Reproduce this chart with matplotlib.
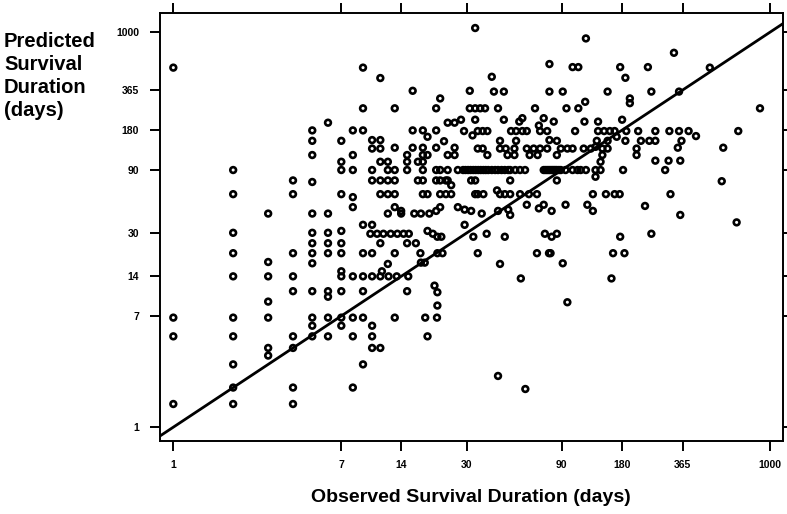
"""Observed vs predicted survival duration, log-log scatter with identity line."""

import matplotlib

matplotlib.use("Agg")

import matplotlib.pyplot as plt
from matplotlib.ticker import FixedLocator, NullLocator

plt.rcParams["font.family"] = ["Liberation Sans", "DejaVu Sans"]

# Tick positions (days) shared by both axes.
tick_days = [1, 7, 14, 30, 90, 180, 365, 1000]
tick_labels = ["1", "7", "14", "30", "90", "180", "365", "1000"]

# Identity line endpoints (predicted == observed).
identity_days = [0.5, 2000]

# Patients: observed survival (days) and predicted survival (days).
observed = [
    33, 119, 330, 78, 1, 9, 102, 109, 177, 244, 500,
    11, 40, 188,
    16, 31, 41, 46, 78, 91, 153, 254, 350,
    22, 118, 198, 198,
    9, 13, 21, 31, 33, 35, 37, 43, 66, 95, 109, 894,
    6, 24, 26, 28, 33, 46, 55, 57, 73, 82, 117, 137, 181,
    69, 5, 8, 9, 16, 18, 21, 29, 34, 36, 38,
    50, 53, 57, 60, 70, 76, 105, 137, 147, 157, 166,
    190, 218, 266, 313, 350, 391, 695,
    19, 32, 170, 426,
    5, 7, 10, 11, 23, 44, 53, 78, 85, 135, 153, 188, 225, 248, 266, 360,
    10, 11, 13, 16, 18, 21, 26, 34, 36, 44, 47,
    52, 60, 65, 70, 76, 89, 96, 102, 116, 126, 133, 144, 153, 214, 345, 584,
    5, 8, 15, 18, 19, 24, 26, 38, 48, 52, 62, 68, 85, 144, 214,
    7, 11, 12, 15, 17, 18, 141, 266, 310, 355,
    2, 7, 8, 10, 12, 13, 15, 18, 21, 22,
    24, 27, 28.7, 29.5, 30.4, 31.3, 32.3, 33.2, 34.2, 35.2,
    36.3, 37.3, 38.4, 40, 41.6, 43, 44.8, 46.5, 48.4, 49.5,
    52.5, 55.5, 58.8, 73, 74.5, 76, 77.5, 79, 80.5, 82,
    83.5, 85, 87, 89, 94, 102, 108, 112, 119, 133,
    141, 183, 298,
    133, 25, 5, 42.5,
    4, 10, 11, 12, 13, 17, 18, 21,
    22, 23.5, 24, 31.5, 33, 49.5, 85, 574,
    2, 4, 7, 8, 11, 12, 13, 18, 19, 22, 23.5, 25, 33,
    34, 36.3, 44, 46.5, 49.5, 55.5, 61.5, 67.5, 129, 150, 166, 176, 317,
    8, 13, 22, 27, 14, 21, 31.5, 43, 80, 129,
    3, 5, 6, 12, 14, 16.3, 17.6, 19.4, 35.6, 49.5, 355,
    29.2, 48.4, 60, 69, 73, 94, 121, 236,
    682, 7, 9, 10, 29.2, 19,
    2, 5, 6, 9.8, 10.6, 11.4, 12.4, 13.4, 14.4, 15.3,
    20.2, 21.3, 22.3, 32.3, 37.7, 46.5, 74, 80, 85, 177, 254,
    5, 6, 7, 11, 15, 16.6,
    2, 4, 5, 6, 7, 9, 10, 13, 17.5,
    21.3, 22.6, 34, 67.5, 77.6, 79, 163, 186,
    3, 5, 12, 17.6, 18.4, 44, 91, 7, 11.2,
    2, 3, 4, 7, 8, 9, 10, 11, 12.1, 13.3, 15.2, 56, 160,
    4, 5, 6, 7, 9, 15, 6, 20.6, 21.3, 21.3, 3, 96,
    1, 2, 3, 5, 6, 7, 8, 9, 13, 18.5, 21.2,
    5, 7, 10,
    1, 2, 4, 5, 6, 8, 10, 19,
    3, 4, 10, 11, 3, 2, 9, 43,
    2, 4, 8, 59, 1, 2, 4,
]
predicted = [
    1080, 900, 700, 575, 540, 540, 545, 545, 545, 545, 540,
    450, 460, 452,
    360, 360, 355, 355, 355, 355, 355, 355, 355,
    315, 297, 315, 290,
    265, 265, 265, 265, 265, 265, 265, 265, 265, 265, 265, 265,
    206, 206, 206, 217, 217, 217, 210, 223, 223, 210, 210, 210, 217,
    196, 180, 180, 180, 180, 180, 180, 178, 178, 178, 178,
    178, 178, 178, 178, 178, 178, 178, 178, 178, 178, 178,
    178, 178, 178, 178, 178, 178, 178,
    161, 165, 161, 163,
    150, 150, 152, 152, 149, 150, 150, 152, 150, 150, 150, 150, 150, 150, 150, 150,
    131, 131, 133, 133, 133, 133, 133, 131, 131, 131, 131,
    131, 131, 131, 131, 131, 131, 131, 131, 131, 131, 135, 131, 131, 131, 133, 133,
    117, 117, 117, 117, 117, 117, 117, 117, 117, 117, 117, 117, 117, 117, 117,
    104, 104, 104, 104, 104, 104, 104, 106, 106, 106,
    90, 90, 90, 90, 90, 90, 90, 90, 90, 90,
    90, 90, 90, 90, 90, 90, 90, 90, 90, 90,
    90, 90, 90, 90, 90, 90, 90, 90, 90, 90,
    90, 90, 90, 90, 90, 90, 90, 90, 90, 90,
    90, 90, 90, 90, 90, 90, 90, 90, 90, 90,
    90, 90, 90,
    80, 69, 73, 63,
    75, 75, 75, 75, 75, 75, 75, 75,
    75, 75, 75, 75, 75, 75, 75, 74,
    59, 59, 59, 56, 59, 59, 59, 59, 59, 59, 59, 59, 59,
    59, 59, 59, 59, 59, 59, 59, 59, 59, 59, 59, 59, 59,
    47, 47, 47, 47, 44, 44, 44, 44, 44, 44,
    42, 42, 42, 42, 42, 42, 42, 42, 42, 41, 41,
    45, 45, 49, 46, 49, 49, 49, 48,
    36, 31, 34.5, 34.5, 34.5, 31,
    30, 30, 30, 29.5, 29.5, 29.5, 29.5, 29.5, 29.5, 29.5,
    29.5, 28, 28, 28, 29.5, 28, 29.5, 28, 29.5, 28, 29.5,
    25, 25, 25, 25, 25, 25,
    21, 21, 21, 21, 21, 21, 21, 21, 21,
    21, 21, 21, 21, 21, 21, 21, 21,
    18, 17.6, 17.4, 17.8, 17.8, 17.4, 17.6, 15.3, 15.3,
    14, 14, 14, 14, 14, 14, 14, 14, 14, 14, 14, 13.5, 13.5,
    10.8, 10.8, 10.8, 10.8, 10.8, 10.8, 9.8, 11.9, 10.6, 8.4, 9, 8.9,
    6.8, 6.8, 6.8, 6.8, 6.8, 6.8, 6.8, 6.8, 6.8, 6.8, 6.8,
    5.9, 5.9, 5.9,
    4.9, 4.9, 4.9, 4.9, 4.9, 4.9, 4.9, 4.9,
    4, 4, 4, 4, 3.5, 3, 3, 2.45,
    2, 2, 2, 1.95, 1.5, 1.5, 1.5,
]
assert len(observed) == len(predicted)

W, H = 787, 514
fig = plt.figure(figsize=(W / 100, H / 100), dpi=100)
# axes frame: left 160px, right 783px, top 12.7px, bottom 441px
ax = fig.add_axes([160 / W, 1 - 441 / H, 623 / W, 428.3 / H])

ax.set_xscale("log")
ax.set_yscale("log")
ax.set_xlim(0.857, 1167)
ax.set_ylim(0.785, 1412)

ax.plot(identity_days, identity_days, color="black", linewidth=2.0, zorder=2)
ax.scatter(observed, predicted, s=17, facecolors="none", edgecolors="black",
           linewidths=1.9, zorder=3)

for axis in (ax.xaxis, ax.yaxis):
    axis.set_major_locator(FixedLocator(tick_days))
    axis.set_minor_locator(NullLocator())
ax.set_xticklabels(tick_labels, fontweight="bold")
ax.set_yticklabels(tick_labels, fontweight="bold")

ax.tick_params(which="major", direction="out", length=7.5, width=1.4,
               top=True, right=True, labelsize=7.5, colors="black")
ax.tick_params(axis="x", pad=6)
ax.tick_params(axis="y", pad=7.5)
for sp in ax.spines.values():
    sp.set_linewidth(1.4)

fig.text(4 / W, 1 - 32 / H, "Predicted\nSurvival\nDuration\n(days)",
         ha="left", va="top", fontsize=14.5, weight="bold", linespacing=1.27)
fig.text(471 / W, 1 - 497 / H, "Observed Survival Duration (days)",
         ha="center", va="center", fontsize=14, weight="bold")

fig.savefig("out.png", dpi=100)
